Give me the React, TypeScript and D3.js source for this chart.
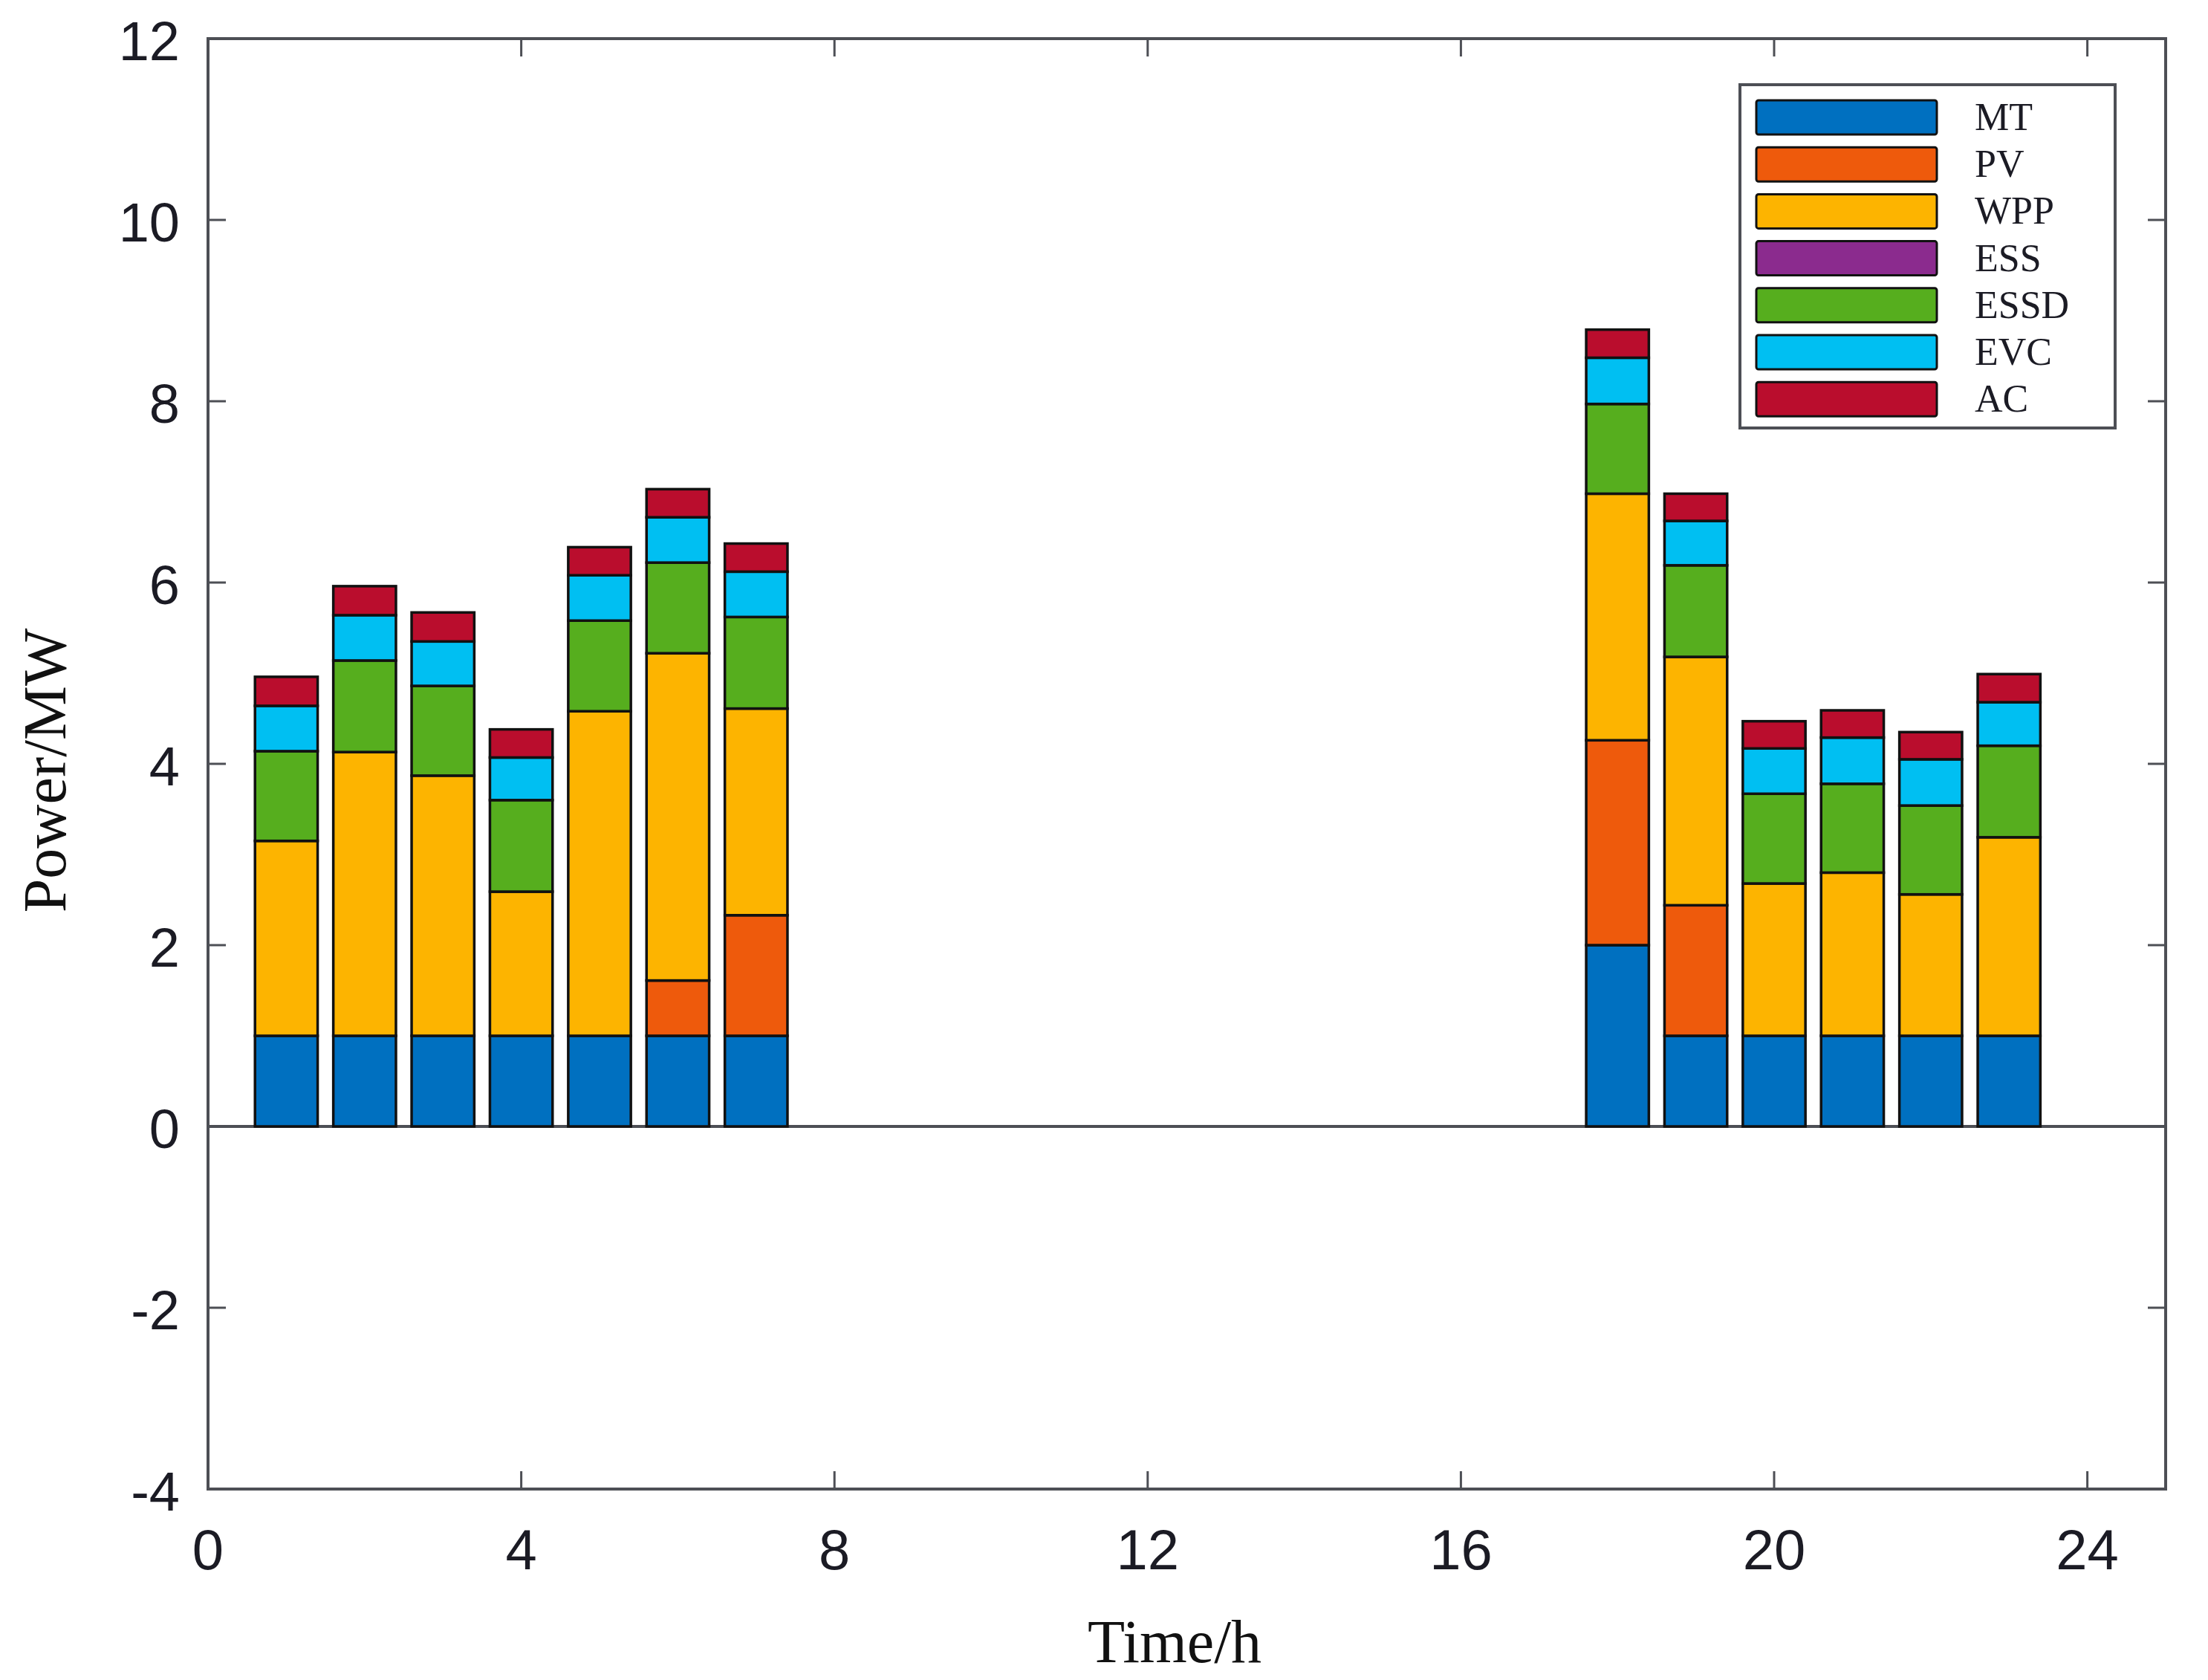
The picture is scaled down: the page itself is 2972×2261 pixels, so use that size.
import React from "react";
import * as d3 from "d3";

const hours = [1, 2, 3, 4, 5, 6, 7, 18, 19, 20, 21, 22, 23];
const seriesNames = ["MT", "PV", "WPP", "ESS", "ESSD", "EVC", "AC"];
const colors = ["#0070C0", "#EE5A0C", "#FDB400", "#8B2B8E", "#56AE1E", "#00BFF2", "#BA0D2D"];

const MT = [1, 1, 1, 1, 1, 1, 1, 2, 1, 1, 1, 1, 1];
const PV = [0, 0, 0, 0, 0, 0.61, 1.33, 2.26, 1.44, 0, 0, 0, 0];
const WPP = [2.15, 3.13, 2.87, 1.59, 3.58, 3.61, 2.28, 2.72, 2.74, 1.68, 1.8, 1.56, 2.19];
const ESS = [0, 0, 0, 0, 0, 0, 0, 0, 0, 0, 0, 0, 0];
const ESSD = [0.99, 1.01, 0.99, 1.01, 1.0, 1.0, 1.01, 0.99, 1.01, 0.99, 0.98, 0.98, 1.01];
const EVC = [0.5, 0.5, 0.49, 0.47, 0.5, 0.5, 0.5, 0.51, 0.49, 0.5, 0.51, 0.51, 0.48];
const AC = [0.32, 0.32, 0.32, 0.31, 0.31, 0.31, 0.31, 0.31, 0.3, 0.3, 0.3, 0.3, 0.31];

const xTicks = [0, 4, 8, 12, 16, 20, 24];
const yTicks = [-4, -2, 0, 2, 4, 6, 8, 10, 12];

const W = 2972;
const H = 2261;

export default function App() {
  const x = d3.scaleLinear().domain([0, 25]).range([280, 2915]);
  const y = d3.scaleLinear().domain([-4, 12]).range([2004, 52]);
  const barW = x(0.8) - x(0);

  const arrays = [MT, PV, WPP, ESS, ESSD, EVC, AC];
  const table = hours.map((h, i) => {
    const row: any = { hour: h };
    seriesNames.forEach((k, j) => (row[k] = arrays[j][i]));
    return row;
  });
  const stacked = d3.stack().keys(seriesNames)(table as any);

  const axisColor = "#4d4f55";
  const tickLen = 24;
  const sans = "'Liberation Sans', Arial, sans-serif";
  const serif = "'Liberation Serif', 'Times New Roman', serif";

  const legX = 2342, legY = 114, legW = 505, legH = 462;
  const rowY0 = 158, rowStep = 63.2;

  return (
    <svg width={W} height={H} style={{ position: "absolute", left: 0, top: 0, background: "#fff" }}>
      <rect x={0} y={0} width={W} height={H} fill="#fff" />
      {/* zero line */}
      <line x1={x(0)} x2={x(25)} y1={y(0)} y2={y(0)} stroke={axisColor} strokeWidth={4} />
      {/* bars */}
      {stacked.map((s, si) => (
        <g key={seriesNames[si]}>
          {s.map((d, i) => {
            const v = d[1] - d[0];
            if (v <= 0) return null;
            return (
              <rect
                key={i}
                x={x(hours[i]) - barW / 2}
                y={y(d[1])}
                width={barW}
                height={y(d[0]) - y(d[1])}
                fill={colors[si]}
                stroke="#111"
                strokeWidth={3.5}
              />
            );
          })}
        </g>
      ))}
      {/* frame */}
      <rect x={x(0)} y={y(12)} width={x(25) - x(0)} height={y(-4) - y(12)} fill="none" stroke={axisColor} strokeWidth={4} />
      {/* x ticks */}
      {xTicks.map((t) => (
        <g key={"xt" + t}>
          <line x1={x(t)} x2={x(t)} y1={y(-4)} y2={y(-4) - tickLen} stroke={axisColor} strokeWidth={3} />
          <line x1={x(t)} x2={x(t)} y1={y(12)} y2={y(12) + tickLen} stroke={axisColor} strokeWidth={3} />
          <text x={x(t)} y={2112} textAnchor="middle" fontFamily={sans} fontSize={76} fill="#1b1b24">
            {t}
          </text>
        </g>
      ))}
      {/* y ticks */}
      {yTicks.map((t) => (
        <g key={"yt" + t}>
          <line x1={x(0)} x2={x(0) + tickLen} y1={y(t)} y2={y(t)} stroke={axisColor} strokeWidth={3} />
          <line x1={x(25)} x2={x(25) - tickLen} y1={y(t)} y2={y(t)} stroke={axisColor} strokeWidth={3} />
          <text x={242} y={y(t) + 29} textAnchor="end" fontFamily={sans} fontSize={74} fill="#1b1b24">
            {t}
          </text>
        </g>
      ))}
      {/* axis titles */}
      <text x={1581} y={2237} textAnchor="middle" fontFamily={serif} fontSize={82} fill="#111">
        Time/h
      </text>
      <text
        transform={`translate(88, 1037) rotate(-90)`}
        textAnchor="middle"
        fontFamily={serif}
        fontSize={82}
        fill="#111"
      >
        Power/MW
      </text>
      {/* legend */}
      <rect x={legX} y={legY} width={legW} height={legH} fill="#fff" stroke={axisColor} strokeWidth={4} />
      {seriesNames.map((n, i) => (
        <g key={"leg" + n}>
          <rect
            x={2364}
            y={rowY0 + i * rowStep - 23}
            width={243}
            height={46}
            rx={3}
            fill={colors[i]}
            stroke="#111"
            strokeWidth={3}
          />
          <text x={2658} y={rowY0 + i * rowStep + 17} fontFamily={serif} fontSize={52} fill="#1b1b24">
            {n}
          </text>
        </g>
      ))}
    </svg>
  );
}
